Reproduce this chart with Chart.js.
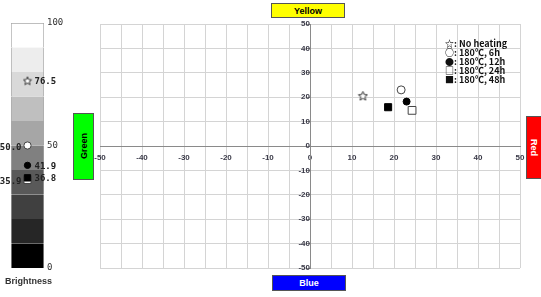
<!DOCTYPE html>
<html>
<head>
<meta charset="utf-8">
<script src="https://cdn.jsdelivr.net/npm/chart.js@4.4.1/dist/chart.umd.min.js"></script>
<style>
html, body { margin: 0; padding: 0; background: #fff; }
#wrap { position: relative; width: 541px; height: 297px; overflow: hidden; font-family: "Liberation Sans", Arial, sans-serif; }
canvas { position: absolute; left: 0; top: 0; }
.box { position: absolute; box-sizing: border-box; border: 1px solid #555; font-weight: bold; font-size: 9px;
       display: flex; align-items: center; justify-content: center; }
#yellow { left: 271px; top: 3px; width: 74px; height: 15px; background: #ffff00; color: #000; }
#blue   { left: 272px; top: 275px; width: 74px; height: 16px; background: #0000ff; color: #fff; }
#green  { left: 73px; top: 113px; width: 21px; height: 67px; background: #00ff00; color: #000; }
#red    { left: 526px; top: 116px; width: 22px; height: 63px; background: #ff0000; color: #fff; }
#green span { writing-mode: vertical-rl; transform: rotate(180deg); }
#red span { writing-mode: vertical-rl; margin-right: 6px; }
</style>
</head>
<body>
<div id="wrap">
  <canvas id="bright" width="75" height="297"></canvas>
  <canvas id="main" width="541" height="297"></canvas>
  <div class="box" id="yellow">Yellow</div>
  <div class="box" id="blue">Blue</div>
  <div class="box" id="green"><span>Green</span></div>
  <div class="box" id="red"><span>Red</span></div>
</div>
<script>
// samples
const SERIES = ['No heating', '180℃, 6h', '180℃, 12h', '180℃, 24h', '180℃, 48h'];
const SYMBOLS = ['☆', '○', '●', '□', '■'];
// a* (green - red) and b* (blue - yellow)
const A_VALUES = [12.6, 21.7, 23.0, 24.3, 18.6];
const B_VALUES = [20.6, 23.0, 18.2, 14.6, 15.9];
// brightness L*
const BRIGHTNESS = [76.5, 50.0, 41.9, 35.9, 36.8];
const BRIGHT_TICKS = [0, 50, 100];
const BAND_EDGES = [0, 10, 20, 30, 40, 50, 60, 70, 80, 90, 100];

const BAND_COLORS = ['#000000', '#262626', '#404040', '#595959', '#808080',
                     '#a6a6a6', '#bfbfbf', '#d9d9d9', '#ededed', '#ffffff'];
const LABEL_SIDE = ['right', 'left', 'right', 'left', 'right'];
const TICK_COLOR = '#3a3a48';

function starCanvas(size) {
    const c = document.createElement('canvas');
    c.width = c.height = size;
    const g = c.getContext('2d');
    const cx = size / 2, cy = size / 2 + 0.5, R = size / 2 - 0.7, r = R * 0.45;
    g.beginPath();
    for (let i = 0; i < 10; i++) {
        const rad = i % 2 ? r : R;
        const a = -Math.PI / 2 + i * Math.PI / 5;
        g.lineTo(cx + rad * Math.cos(a), cy + rad * Math.sin(a));
    }
    g.closePath();
    g.fillStyle = '#fff';
    g.fill();
    g.strokeStyle = '#333';
    g.lineWidth = 1;
    g.stroke();
    return c;
}

function markerStyles(scale) {
    return [
        { pointStyle: starCanvas(Math.round(11 * scale)), pointRadius: 5 * scale, backgroundColor: '#fff', borderColor: '#333' },
        { pointStyle: 'circle', pointRadius: 4 * scale, backgroundColor: '#fff', borderColor: '#444' },
        { pointStyle: 'circle', pointRadius: 3.5 * scale, backgroundColor: '#000', borderColor: '#000' },
        { pointStyle: 'rect', pointRadius: 5.5 * scale, backgroundColor: '#fff', borderColor: '#444' },
        { pointStyle: 'rect', pointRadius: 5 * scale, backgroundColor: '#000', borderColor: '#000' },
    ];
}

// ---------- brightness column ----------
const brightMarkers = markerStyles(0.9);

const bandSets = BAND_COLORS.map((col, i) => ({
    type: 'bar',
    data: [[BAND_EDGES[i], BAND_EDGES[i + 1]]],
    backgroundColor: col,
    borderColor: '#a8a8a8',
    borderWidth: { left: 1, right: 1, top: i === BAND_COLORS.length - 1 ? 1 : 0, bottom: 0 },
    borderSkipped: false,
    grouped: false,
    barPercentage: 1,
    categoryPercentage: 1,
    order: 10,
}));

const brightPoints = BRIGHTNESS.map((v, i) => ({
    type: 'line',
    data: [v],
    showLine: false,
    pointBorderWidth: 1,
    pointStyle: brightMarkers[i].pointStyle,
    pointRadius: brightMarkers[i].pointRadius,
    pointBackgroundColor: brightMarkers[i].backgroundColor,
    pointBorderColor: brightMarkers[i].borderColor,
    order: 4 - i,
}));

const valueLabels = {
    id: 'valueLabels',
    afterDatasetsDraw(chart) {
        const { ctx, chartArea } = chart;
        ctx.save();
        ctx.font = 'bold 9px "DejaVu Sans Mono", monospace';
        ctx.fillStyle = '#222';
        ctx.textBaseline = 'middle';
        BRIGHTNESS.forEach((v, i) => {
            const pt = chart.getDatasetMeta(BAND_COLORS.length + i).data[0];
            if (LABEL_SIDE[i] === 'right') {
                ctx.textAlign = 'left';
                ctx.fillText(v.toFixed(1), pt.x + 7, pt.y + 1);
            } else {
                ctx.textAlign = 'right';
                ctx.fillText(v.toFixed(1), pt.x - 6, pt.y + 2);
            }
        });
        // column title
        ctx.font = 'bold 9px "Liberation Sans", Arial';
        ctx.fillStyle = '#333';
        ctx.textAlign = 'center';
        ctx.fillText('Brightness', (chartArea.left + chartArea.right) / 2 + 1, chartArea.bottom + 14);
        ctx.restore();
    }
};

new Chart(document.getElementById('bright'), {
    data: { labels: ['L'], datasets: [...bandSets, ...brightPoints] },
    options: {
        responsive: false,
        animation: false,
        layout: { padding: { left: 11, right: 9, top: 23, bottom: 29 } },
        plugins: { legend: { display: false }, tooltip: { enabled: false } },
        scales: {
            x: {
                display: false
            },
            y: {
                position: 'right',
                min: 0, max: 100,
                afterBuildTicks: s => { s.ticks = BRIGHT_TICKS.map(v => ({ value: v })); },
                afterFit: s => { s.width = 22; },
                grid: { display: false, drawTicks: false },
                border: { display: false },
                ticks: { padding: 3, color: '#333', font: { size: 9, family: '"DejaVu Sans Mono", monospace' } }
            }
        }
    },
    plugins: [valueLabels]
});

// ---------- a*b* plane ----------
const mainMarkers = markerStyles(1);

const abSets = SERIES.map((name, i) => ({
    label: name,
    data: [{ x: A_VALUES[i], y: B_VALUES[i] }],
    pointBorderWidth: 1,
    pointStyle: mainMarkers[i].pointStyle,
    pointRadius: mainMarkers[i].pointRadius,
    pointBackgroundColor: mainMarkers[i].backgroundColor,
    pointBorderColor: mainMarkers[i].borderColor,
    order: 4 - i,
}));

const textLegend = {
    id: 'textLegend',
    afterDatasetsDraw(chart) {
        const { ctx, chartArea } = chart;
        ctx.save();
        ctx.font = 'bold 9px "Noto Sans CJK KR", sans-serif';
        ctx.fillStyle = '#111';
        ctx.textAlign = 'left';
        ctx.textBaseline = 'middle';
        SERIES.forEach((name, i) => {
            ctx.fillText(SYMBOLS[i] + ': ' + name, chartArea.right - 75, chartArea.top + 20 + i * 8.8);
        });
        ctx.restore();
    }
};

const gridCol = c => (c.tick && c.tick.value === 0) ? '#8a8a8a' : '#d4d4d4';

new Chart(document.getElementById('main'), {
    type: 'scatter',
    data: { datasets: abSets },
    options: {
        responsive: false,
        animation: false,
        layout: { padding: { left: 100, right: 21, top: 24, bottom: 29 } },
        plugins: { legend: { display: false }, tooltip: { enabled: false } },
        scales: {
            x: {
                type: 'linear', min: -50, max: 50,
                position: { y: 0 },
                grid: { color: gridCol, drawTicks: false },
                border: { color: '#8a8a8a' },
                ticks: {
                    stepSize: 5, autoSkip: false, maxRotation: 0, padding: 7, color: TICK_COLOR,
                    font: { size: 8, weight: 'bold', family: '"Liberation Sans", Arial' },
                    callback: v => v % 10 === 0 ? v : ''
                }
            },
            y: {
                type: 'linear', min: -50, max: 50,
                position: { x: 0 },
                grid: { color: gridCol, tickColor: '#8a8a8a', tickLength: 4 },
                border: { color: '#8a8a8a' },
                ticks: {
                    stepSize: 10, padding: 2, color: TICK_COLOR,
                    font: { size: 8, weight: 'bold', family: '"Liberation Sans", Arial' }
                }
            }
        }
    },
    plugins: [textLegend]
});
</script>
</body>
</html>
